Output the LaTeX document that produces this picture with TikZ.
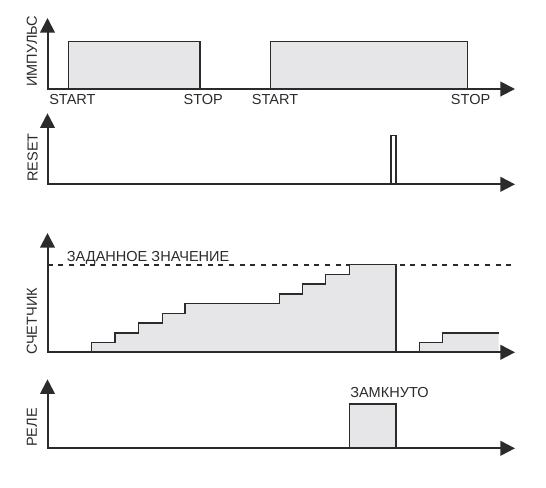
\documentclass[tikz,border=0pt]{standalone}
\usepackage{fontspec}
\setmainfont{Liberation Sans}
\usetikzlibrary{arrows.meta}
\definecolor{ink}{HTML}{2B2B2B}
\definecolor{pulsefill}{HTML}{E6E6E8}
\begin{document}
\begin{tikzpicture}[x=0.75pt,y=-0.75pt,
  axis/.style={line width=1.5pt, draw=ink, line join=miter, {Triangle[length=11pt,width=11pt]}-{Triangle[length=11pt,width=11pt]}},
  sig/.style={line width=1.1pt, draw=ink, fill=pulsefill, line join=miter},
  lbl/.style={font=\fontsize{10.9}{13}\selectfont, text=ink, inner sep=0pt, anchor=base west},
  ylbl/.style={lbl, rotate=90}]
\useasboundingbox (0,0) rectangle (546,487);

% ---------- panel 1: pulses ----------
\draw[sig] (68.3,89) rectangle (200,41.3);
\draw[sig] (270.3,89) rectangle (467.7,41.3);
\draw[axis] (47.5,18) -- (47.5,89) -- (515,89);
\node[ylbl] (limp) at (36.8,87) {ИМПУЛЬС};
\node[lbl] (start1) at (49,104) {START};
\node[lbl] (stop1) at (183.3,104) {STOP};
\node[lbl] (start2) at (251.7,104) {START};
\node[lbl] (stop2) at (450.7,104) {STOP};

% ---------- panel 2: reset ----------
\draw[line width=1.1pt, draw=ink, fill=white] (391,184.3) rectangle (396,135.7);
\draw[axis] (47.5,113.3) -- (47.5,184.3) -- (515,184.3);
\node[ylbl] (lreset) at (37.5,182) {RESET};

% ---------- panel 3: counter ----------
\draw[line width=1.5pt, draw=ink, dash pattern=on 3.75pt off 4.25pt] (47.5,264.5) -- (515,264.5);
\fill[pulsefill] (419.3,352.3) -- (419.3,342.55) -- (442.7,342.55) -- (442.7,332.8) -- (498.7,332.8) -- (498.7,352.3) -- cycle;
\draw[line width=1.1pt, draw=ink] (419.3,352.3) -- (419.3,342.55) -- (442.7,342.55) -- (442.7,332.8) -- (498.7,332.8);
\draw[sig] (91.7,352.3) -- (91.7,342.55) -- (115,342.55) -- (115,332.8) -- (138.3,332.8) -- (138.3,323.05)
  -- (162.3,323.05) -- (162.3,313.3) -- (185,313.3) -- (185,303.55) -- (279.3,303.55) -- (279.3,293.8)
  -- (302.3,293.8) -- (302.3,284.05) -- (325.7,284.05) -- (325.7,274.3) -- (349.3,274.3) -- (349.3,264.5)
  -- (396,264.5) -- (396,352.3);
\draw[axis] (47.5,233) -- (47.5,352.3) -- (515,352.3);
\node[ylbl] (lcnt) at (36.8,355) {СЧЕТЧИК};
\node[lbl] (lset) at (66.7,261.7) {ЗАДАННОЕ ЗНАЧЕНИЕ};

% ---------- panel 4: relay ----------
\draw[sig] (349.3,448.3) rectangle (396,404);
\draw[axis] (47.5,379.3) -- (47.5,448.3) -- (515,448.3);
\node[ylbl] (lrel) at (36.8,447) {РЕЛЕ};
\node[lbl] (lclosed) at (350,397.3) {ЗАМКНУТО};
\end{tikzpicture}
\end{document}
